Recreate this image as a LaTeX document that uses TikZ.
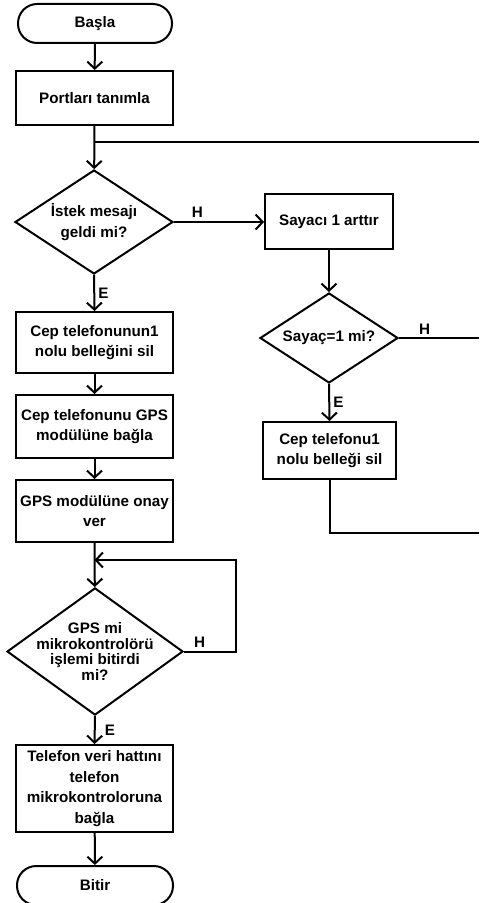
\documentclass[tikz,border=0pt]{standalone}
\usepackage{fontspec}
\setmainfont{Liberation Sans}
\usetikzlibrary{arrows.meta,shapes.geometric}

\begin{document}
\begin{tikzpicture}[x=0.5pt,y=-0.5pt, line width=1pt,
  font=\bfseries\fontsize{7.6}{10.3}\selectfont,
  box/.style={draw,rectangle,align=center,inner sep=1pt,minimum width=78.5pt},
  ends/.style={draw,rectangle,rounded corners=9.6pt,minimum width=77pt,minimum height=19.5pt},
  ask/.style={draw,diamond,align=center,inner sep=-6pt},
  arr/.style={-{Straight Barb[length=3.5pt,width=7.5pt]}},
  lbl/.style={inner sep=1.5pt}]
\useasboundingbox (0,0) rectangle (479,903);
% left column
\node (start) at (95,23.5) [ends] {Başla};
\node (ports) at (94.5,98) [box,minimum height=27pt] {Portları tanımla};
\node (q1) at (94,222) [ask,minimum width=79pt,minimum height=52pt] {İstek mesajı\\geldi mi?};
\node (del1) at (94.5,342.5) [box,minimum height=30.5pt] {Cep telefonunun1\\nolu belleğini sil};
\node (gps) at (94.5,426.5) [box,minimum height=31.5pt] {Cep telefonunu GPS\\modülüne bağla};
\node (ok) at (94.5,511) [box,minimum height=31pt] {GPS modülüne onay\\ver};
\node (q3) at (95,651.5) [ask,minimum width=88pt,minimum height=63.5pt,
  font=\bfseries\fontsize{7.6}{7.8}\selectfont] {GPS mi\\mikrokontrolörü\\işlemi bitirdi\\mi?};
\node (link) at (94.5,788.5) [box,minimum height=43.5pt] {Telefon veri hattını\\telefon\\mikrokontroloruna\\bağla};
\node (stop) at (95,885.5) [ends,minimum width=78pt] {Bitir};
% right column
\node (cnt) at (329,222) [box,minimum width=64pt,minimum height=27.5pt] {Sayacı 1 arttır};
\node (q2) at (329,338) [ask,minimum width=69pt,minimum height=45pt] {Sayaç=1 mi?};
\node (del2) at (329.5,450.5) [box,minimum width=66.5pt,minimum height=28.5pt] {Cep telefonu1\\nolu belleği sil};
% free ends
\coordinate (j1) at (94.5,142);
\coordinate (r1) at (479,142);
\coordinate (r2) at (479,338);
\coordinate (j2) at (329.5,533);
\coordinate (r3) at (479,533);
\coordinate (m3) at (94.5,560);

\draw[arr] (start) -- (ports);
\draw[arr] (ports) -- (q1);
\draw (j1) -- (r1);
\draw[arr] (q1.east) -- node[lbl,above,pos=0.26] {H} (cnt.west);
\draw[arr] (q1.south) -- node[lbl,right] {E} (del1.north);
\draw[arr] (del1) -- (gps);
\draw[arr] (gps) -- (ok);
\draw[arr] (ok) -- (q3);
\draw[arr] (q3.east) -- node[lbl,above,pos=0.3] {H} ++(52,0) |- (m3);
\draw[arr] (q3.south) -- node[lbl,right,xshift=3pt] {E} (link.north);
\draw[arr] (link) -- (stop);
\draw[arr] (cnt) -- (q2);
\draw (q2.east) -- node[lbl,above,pos=0.32] {H} (r2);
\draw[arr] (q2.south) -- node[lbl,right] {E} (del2.north);
\draw (del2.south) -- (j2) -- (r3);
\end{tikzpicture}
\end{document}
